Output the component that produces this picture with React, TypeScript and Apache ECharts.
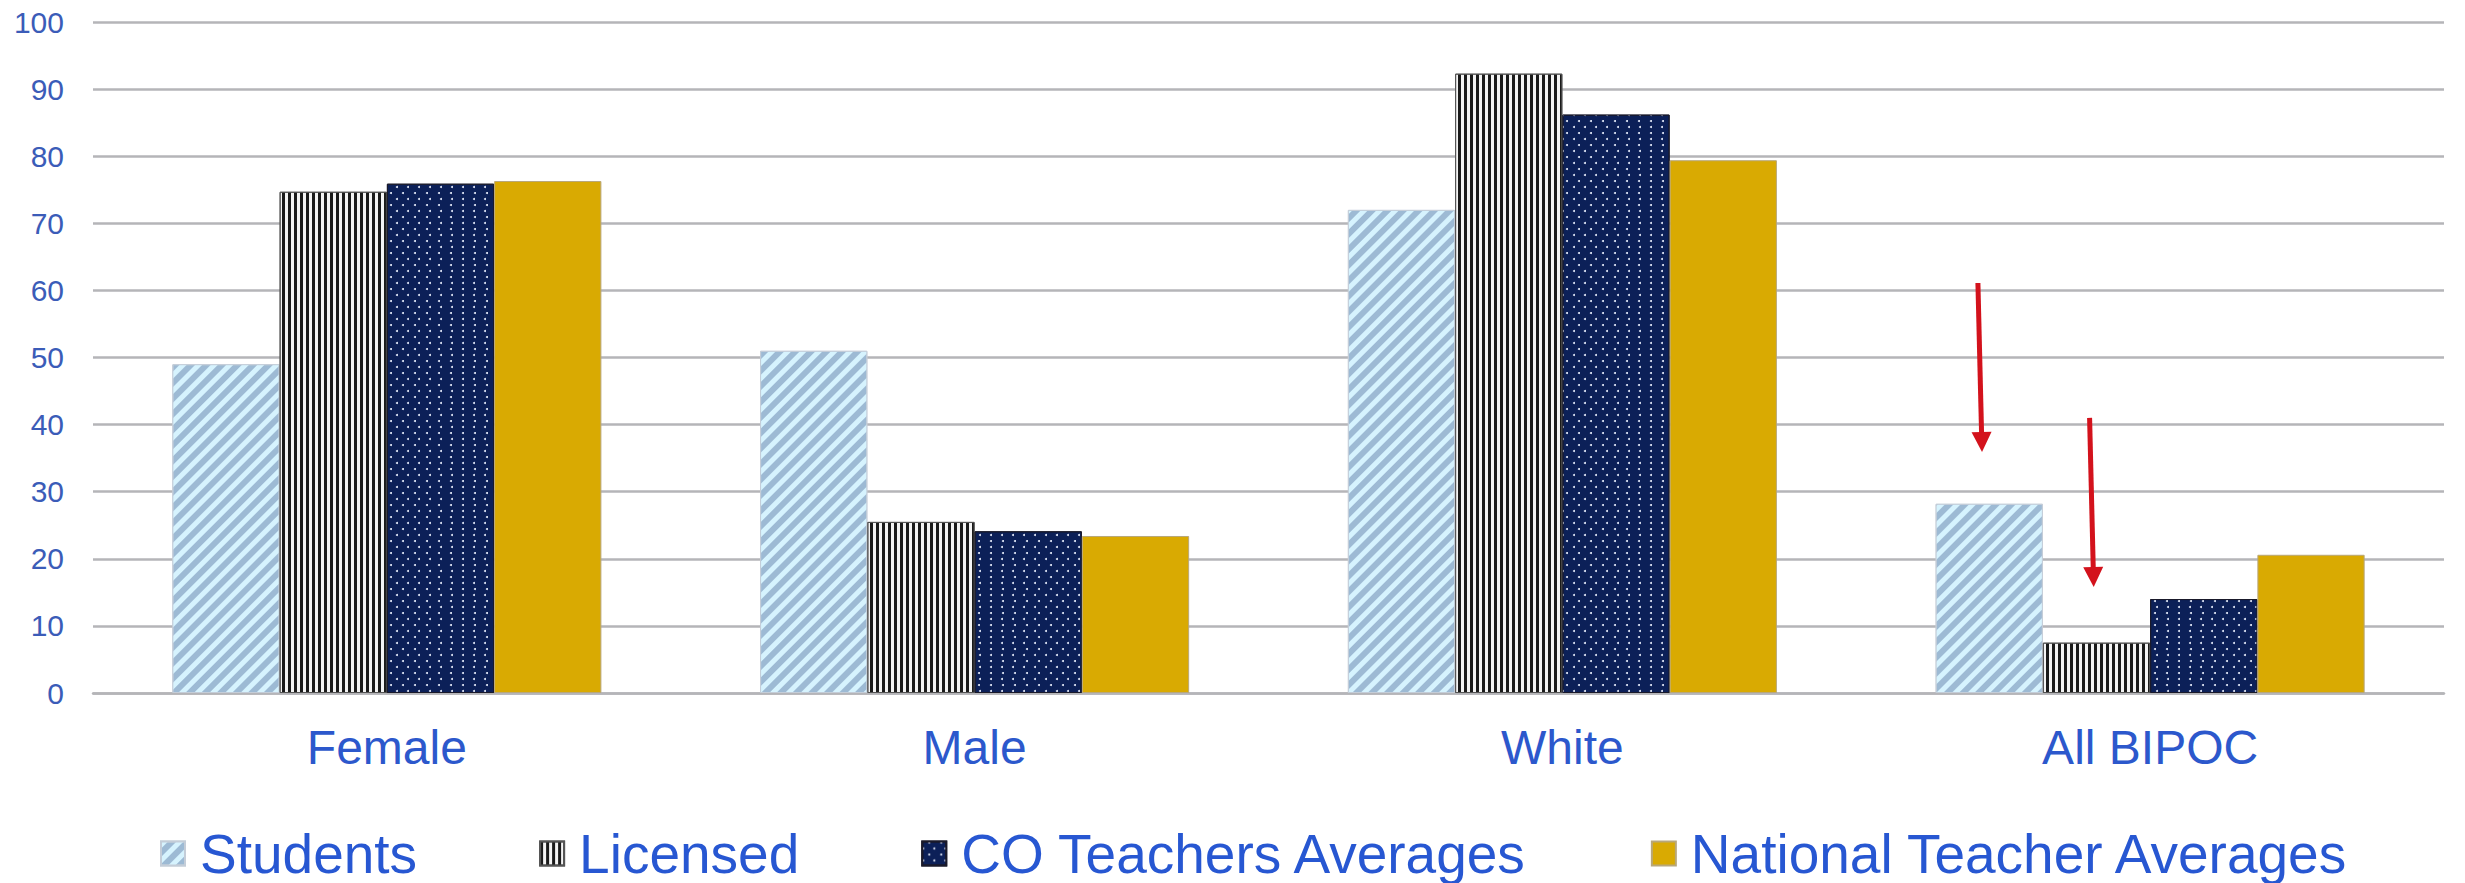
import React, { useEffect, useRef } from "react";
import * as echarts from "echarts";

// Category groups along the x axis
const categories = ["Female", "Male", "White", "All BIPOC"];

// Percent values per series
const studentsValues = [49, 51, 72, 28.2];
const licensedValues = [74.7, 25.5, 92.3, 7.5];
const coTeacherValues = [75.9, 24.1, 86.2, 14];
const nationalTeacherValues = [76.3, 23.4, 79.4, 20.6];

// Y axis range
const yMin = 0;
const yMax = 100;
const yStep = 10;

// Call-out arrows: [category index, start value, tip value, offset at start, offset at tip]
// offsets are fractions of the category band width from its centre
const arrowData = [
  [3, 61.1, 35.9, -0.293, -0.286],
  [3, 41, 15.8, -0.103, -0.096],
];

const FONT = "'Liberation Sans', Arial, Helvetica, sans-serif";

export default function App() {
  const ref = useRef<HTMLDivElement>(null);

  useEffect(() => {
    document.body.style.margin = "0";
    const chart = echarts.init(ref.current!, undefined, { renderer: "svg" });

    const barBase = {
      type: "bar" as const,
      barGap: "0%",
      barCategoryGap: "27%",
    };

    chart.setOption({
      animation: false,
      backgroundColor: "#ffffff",
      grid: { left: 93, right: 21, top: 22, bottom: 190, containLabel: false },
      legend: {
        data: ["Students", "Licensed", "CO Teachers Averages", "National Teacher Averages"],
        left: 160,
        top: 826,
        padding: 0,
        itemWidth: 24,
        itemHeight: 24,
        itemGap: 122,
        icon: "rect",
        textStyle: {
          fontFamily: FONT,
          fontSize: 55,
          lineHeight: 54,
          color: "#2757d2",
          padding: [0, 0, 0, 10],
        },
      },
      xAxis: {
        type: "category",
        data: categories,
        axisTick: { show: false },
        axisLine: { show: true, lineStyle: { color: "#b5b5b8", width: 2.5 } },
        axisLabel: {
          fontFamily: FONT,
          fontSize: 48,
          color: "#2c58cc",
          margin: 30,
        },
      },
      yAxis: {
        type: "value",
        min: yMin,
        max: yMax,
        interval: yStep,
        axisLine: { show: false },
        axisTick: { show: false },
        splitLine: { lineStyle: { color: "#b5b5b8", width: 2.5 } },
        axisLabel: {
          fontFamily: FONT,
          fontSize: 30,
          color: "#3b5cb8",
          margin: 29,
        },
      },
      series: [
        {
          ...barBase,
          name: "Students",
          data: studentsValues,
          itemStyle: {
            color: "#9dbad4",
            borderColor: "#c4cdd8",
            borderWidth: 1,
            decal: {
              symbol: "rect",
              symbolSize: 1,
              dashArrayX: [1, 0],
              dashArrayY: [5, 6],
              rotation: -Math.PI / 4,
              color: "#d6f3fe",
            },
          },
        },
        {
          ...barBase,
          name: "Licensed",
          data: licensedValues,
          itemStyle: {
            color: "#f4f4f4",
            borderColor: "#555555",
            borderWidth: 1,
            decal: {
              symbol: "rect",
              symbolSize: 1,
              dashArrayX: [2.2, 2.6],
              dashArrayY: [10, 0],
              rotation: 0,
              color: "#1a1a1a",
            },
          },
        },
        {
          ...barBase,
          name: "CO Teachers Averages",
          data: coTeacherValues,
          itemStyle: {
            color: "#0c2058",
            borderColor: "#1a1a2a",
            borderWidth: 1,
            decal: {
              symbol: "circle",
              symbolSize: 1,
              dashArrayX: [
                [2, 9],
                [0, 5.5, 2, 3.5],
              ],
              dashArrayY: [2, 4],
              rotation: 0,
              color: "#e8eefc",
            },
          },
        },
        {
          ...barBase,
          name: "National Teacher Averages",
          data: nationalTeacherValues,
          itemStyle: {
            color: "#d9aa02",
            borderColor: "#b8a77a",
            borderWidth: 1,
          },
        },
        {
          type: "custom",
          name: "arrows",
          silent: true,
          z: 10,
          data: arrowData,
          encode: { x: 0, y: 1 },
          renderItem: (params: any, api: any) => {
            const cat = api.value(0);
            const band = api.size([1, 0])[0];
            const start = api.coord([cat, api.value(1)]);
            const tip = api.coord([cat, api.value(2)]);
            const x1 = start[0] + api.value(3) * band;
            const x2 = tip[0] + api.value(4) * band;
            const y1 = start[1];
            const y2 = tip[1];
            const headH = 20;
            const headW = 10;
            const dx = x2 - x1;
            const dy = y2 - y1;
            const len = Math.sqrt(dx * dx + dy * dy);
            const ux = dx / len;
            const uy = dy / len;
            const bx = x2 - ux * headH;
            const by = y2 - uy * headH;
            const px = -uy;
            const py = ux;
            return {
              type: "group",
              children: [
                {
                  type: "line",
                  shape: { x1, y1, x2: bx + ux * 2, y2: by + uy * 2 },
                  style: { stroke: "#d3121c", lineWidth: 5, lineCap: "butt" },
                },
                {
                  type: "polygon",
                  shape: {
                    points: [
                      [x2, y2],
                      [bx + px * headW, by + py * headW],
                      [bx - px * headW, by - py * headW],
                    ],
                  },
                  style: { fill: "#d3121c" },
                },
              ],
            };
          },
        },
      ],
    });

    return () => chart.dispose();
  }, []);

  return (
    <div
      ref={ref}
      style={{ position: "absolute", left: 0, top: 0, width: 2465, height: 883 }}
    />
  );
}
